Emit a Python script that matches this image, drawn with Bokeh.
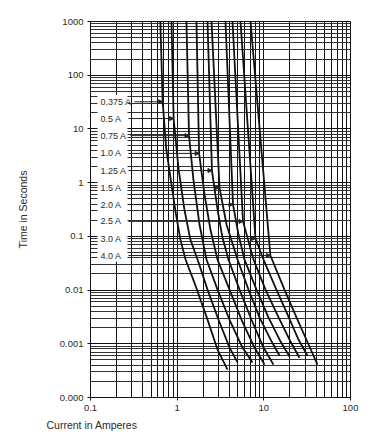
from bokeh.plotting import figure
from bokeh.models import FixedTicker, Label, Arrow, NormalHead, Range1d, BoxAnnotation, Title
from bokeh.embed import file_html
from bokeh.resources import INLINE

# ---- axis ticks ----
x_major = [0.1, 1, 10, 100]
x_major_labels = ["0.1", "1", "10", "100"]
y_major = [0.0001, 0.001, 0.01, 0.1, 1, 10, 100, 1000]
y_major_labels = ["0.000", "0.001", "0.01", "0.1", "1", "10", "100", "1000"]

# ---- fuse ratings and their pointer rows ----
ratings = ["0.375 A", "0.5 A", "0.75 A", "1.0 A", "1.25 A", "1.5 A",
           "2.0 A", "2.5 A", "3.0 A", "4.0 A"]
label_seconds = [32, 15.6, 7.5, 3.5, 1.68, 0.81, 0.39, 0.19, 0.091, 0.044]
arrow_start_amps = [0.322, 0.274, 0.289, 0.274, 0.274, 0.274, 0.274, 0.274, 0.274, 0.274]
arrow_end_amps = [0.68, 0.91, 1.37, 1.79, 2.52, 3.08, 4.41, 5.75, 8.01, 11.9]

# ---- time-current curves (amperes, seconds) ----
amps_0375 = [0.64, 0.68, 0.75, 0.86, 0.96, 1.09, 1.25, 1.58, 2.18, 2.92, 3.81]
secs_0375 = [1000, 32, 4.1, 0.92, 0.28, 0.087, 0.037, 0.0138, 0.0032, 0.00078, 0.00033]
amps_05 = [0.86, 0.91, 1.04, 1.21, 1.42, 1.72, 2.24, 3.0, 4.02, 4.97]
secs_05 = [1000, 15.6, 1.76, 0.32, 0.087, 0.037, 0.0102, 0.0028, 0.00085, 0.00045]
amps_075 = [1.28, 1.37, 1.54, 1.81, 2.18, 2.92, 4.02, 5.67, 7.40]
secs_075 = [1000, 7.5, 1.14, 0.166, 0.037, 0.0102, 0.0028, 0.00085, 0.00045]
amps_10 = [1.67, 1.79, 2.07, 2.42, 2.92, 4.02, 5.53, 7.80, 10.2]
secs_10 = [1000, 3.5, 0.60, 0.134, 0.037, 0.0102, 0.0028, 0.00085, 0.00041]
amps_125 = [2.24, 2.52, 2.92, 3.33, 3.91, 5.24, 7.21, 9.91, 12.9]
secs_125 = [1000, 1.68, 0.32, 0.095, 0.037, 0.0102, 0.0028, 0.00085, 0.00041]
amps_15 = [2.49, 3.08, 3.71, 4.97, 6.65, 8.91, 12.3, 15.2]
secs_15 = [1000, 0.81, 0.166, 0.037, 0.0102, 0.0031, 0.0011, 0.0006]
amps_20 = [3.61, 4.41, 5.10, 5.98, 8.23, 11.3, 15.6, 19.8]
secs_20 = [1000, 0.39, 0.108, 0.037, 0.0102, 0.0031, 0.0011, 0.00058]
amps_25 = [4.35, 5.75, 7.60, 10.45, 14.8, 20.3, 25.8]
secs_25 = [1000, 0.19, 0.037, 0.0102, 0.0031, 0.0011, 0.00055]
amps_30 = [5.38, 8.01, 9.91, 13.6, 18.8, 25.1, 31.9]
secs_30 = [1000, 0.091, 0.037, 0.0112, 0.0035, 0.0012, 0.0006]
amps_40 = [7.02, 11.9, 17.3, 23.8, 32.8, 41.6]
secs_40 = [1000, 0.044, 0.0102, 0.0031, 0.00097, 0.00041]

curves = [(amps_0375, secs_0375), (amps_05, secs_05), (amps_075, secs_075),
          (amps_10, secs_10), (amps_125, secs_125), (amps_15, secs_15),
          (amps_20, secs_20), (amps_25, secs_25), (amps_30, secs_30),
          (amps_40, secs_40)]

FONT = "Liberation Sans"
TEXT = "#2a2a2a"

p = figure(width=370, height=436, x_axis_type="log", y_axis_type="log",
           x_range=Range1d(0.1, 100), y_range=Range1d(0.0001, 1000),
           output_backend="svg", toolbar_location=None,
           min_border_left=90, min_border_right=20, min_border_top=21,
           min_border_bottom=39)
p.background_fill_color = "white"
p.border_fill_color = "white"
p.outline_line_color = "#111111"
p.outline_line_width = 1

x_minor = [m * d for d in (0.1, 1, 10) for m in range(2, 10)]
y_minor = [m * d for d in (0.0001, 0.001, 0.01, 0.1, 1, 10, 100) for m in range(2, 10)]
p.xaxis.ticker = FixedTicker(ticks=x_major, minor_ticks=x_minor)
p.yaxis.ticker = FixedTicker(ticks=y_major, minor_ticks=y_minor)
p.xaxis.major_label_overrides = dict(zip(x_major, x_major_labels))
p.yaxis.major_label_overrides = dict(zip(y_major, y_major_labels))

for ax in (p.xaxis, p.yaxis):
    ax.major_tick_out = 3
    ax.major_tick_in = 0
    ax.minor_tick_out = 0
    ax.minor_tick_in = 0
    ax.axis_line_color = "#111111"
    ax.major_tick_line_color = "#111111"
    ax.major_label_text_font = FONT
    ax.major_label_text_font_size = "9.5px"
    ax.major_label_text_color = TEXT
    ax.major_label_standoff = 4

p.yaxis.axis_label = "Time in Seconds"
p.yaxis.axis_label_text_font = FONT
p.yaxis.axis_label_text_font_size = "10.5px"
p.yaxis.axis_label_text_font_style = "normal"
p.yaxis.axis_label_text_color = TEXT
p.yaxis.axis_label_standoff = 28

p.xgrid.grid_line_color = "#111111"
p.ygrid.grid_line_color = "#111111"
p.xgrid.minor_grid_line_color = "#111111"
p.ygrid.minor_grid_line_color = "#333333"
p.xgrid.grid_line_width = 1
p.ygrid.grid_line_width = 1

for amps, secs in curves:
    p.line(amps, secs, line_color="#111111", line_width=1.8)

# white panel behind the rating labels
p.add_layout(BoxAnnotation(left=0.1205, right=0.267,
                           top=max(label_seconds) * 1.35,
                           bottom=min(label_seconds) / 1.3,
                           fill_color="white", fill_alpha=1.0,
                           line_color=None, level="annotation"))

for name, t, a0, a1 in zip(ratings, label_seconds, arrow_start_amps, arrow_end_amps):
    p.add_layout(Label(x=0.13, y=t, text=name, text_font=FONT,
                       text_font_size="9px", text_color=TEXT,
                       text_baseline="middle", text_align="left"))
    p.add_layout(Arrow(x_start=a0, y_start=t, x_end=a1, y_end=t,
                       line_color="#222222", line_width=1,
                       end=NormalHead(size=4, fill_color="#222222",
                                      line_color="#222222")))

p.add_layout(Title(text="Current in Amperes", align="left", offset=-44,
                   text_font=FONT, text_font_size="10.5px",
                   text_font_style="normal", text_color=TEXT, standoff=6),
             "below")

open("out.html", "w").write(file_html(p, INLINE))
